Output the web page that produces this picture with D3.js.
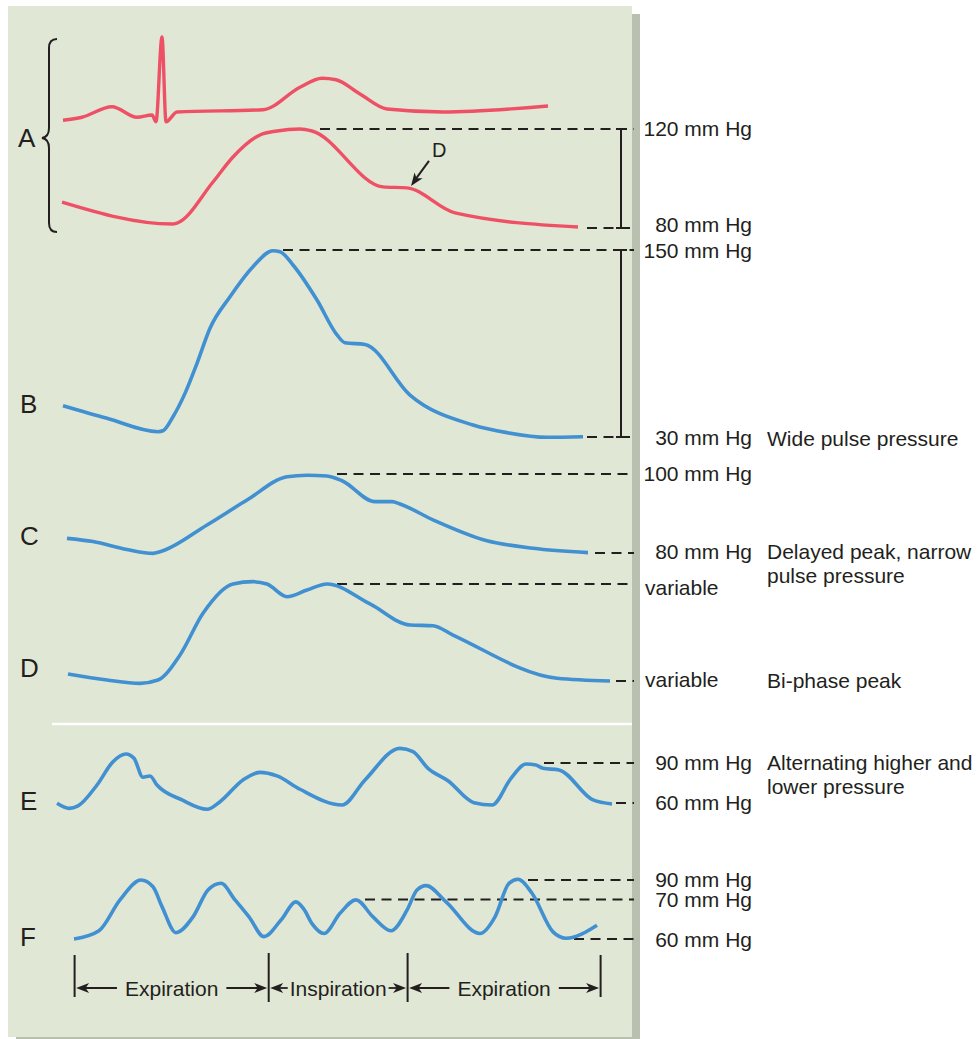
<!DOCTYPE html>
<html><head><meta charset="utf-8">
<script src="https://cdn.jsdelivr.net/npm/d3@7"></script>
<style>
html,body{margin:0;padding:0;background:#fff;}
text{font-family:"Liberation Sans",Arial,Helvetica,sans-serif;fill:#231f20;}
</style>
</head><body><svg id="c" width="979" height="1039"></svg>
<script>
// ---- data (time in arbitrary ms, values in mm Hg / mV / relative %) ----
const ecgT  = [3,22,52,77,92,96,102,106,117,203,240,262,276,300,327,383,488];
const ecgMV = [-0.11,-0.07,0.07,-0.07,-0.04,-0.13,1.0,-0.13,0,0.03,0.33,0.45,0.43,0.24,0.04,0,0.08];

const aT = [2,112,117,153,173,200,217,240,252,323,347,395,518];
const aP = [90.5,81.6,82.0,98.6,108.7,117.6,119.2,120,119.2,96.6,96.2,86.1,80.4];

const bT = [3,47,98,103,113,125,137,150,170,193,213,220,233,257,277,285,305,350,413,447,487,523];
const bP = [50.1,42.0,33.4,34.0,43.0,58.0,77.3,99.8,120.0,139.3,149.5,148.9,140.4,117.9,95.5,90.5,89.4,56.9,37.7,32.8,29.8,30.2];

const cT = [7,33,67,93,100,147,187,227,247,267,282,315,332,340,373,427,473,528];
const cP = [83.7,82.9,80.9,79.9,80.3,87.1,93.4,99.3,99.7,99.5,98.3,93.0,93.0,92.4,88.4,83.1,81.2,80.1];

const dT = [8,47,80,98,120,143,173,193,207,227,247,267,310,350,373,393,497,550];
const dV = [7.2,1.0,-2.4,1.0,26.8,69.8,100.0,102.4,100.0,86.9,93.8,100.0,79.4,57.7,57.0,47.4,2.8,0];

const eT = [-3,9,18,37,53,66,74,83,90,97,122,147,160,183,200,217,240,282,305,340,353,368,388,414,432,451,466,476,483,499,533,552];
const eP = [59.8,56.0,57.8,73.5,91.0,96.8,93.5,79.3,80.3,73.5,62.3,55.3,61.0,77.3,83.0,80.3,70.3,58.5,77.3,101.0,98.5,86.0,76.7,60.2,58.5,78.5,89.3,88.5,86.0,84.8,62.3,59.3];

const fT = [14,39,60,81,93,102,116,133,148,161,175,189,204,221,236,244,252,264,280,296,313,331,347,357,366,386,420,435,449,458,472,493,506,537];
const fP = [60.0,62.1,69.9,90.0,83.1,68.2,61.6,65.6,79.7,86.6,69.9,65.6,60.6,64.8,69.4,67.5,63.9,61.4,66.5,69.9,65.6,62.1,67.3,79.7,84.2,69.4,61.4,65.6,86.6,90.7,76.4,61.8,60.2,63.5];

// reference levels: [value, start time, label]
const refA = [[120,260,'120 mm Hg'],[80,527,'80 mm Hg']];
const refB = [[150,223,'150 mm Hg'],[30,527,'30 mm Hg']];
const refC = [[100,277,'100 mm Hg'],[80,535,'80 mm Hg']];
const refD = [[100,277,'variable'],[0,556,'variable']];
const refE = [[90,484,'90 mm Hg'],[60,556,'60 mm Hg']];
const refF = [[90,468,'90 mm Hg'],[70,305,'70 mm Hg'],[60,514,'60 mm Hg']];

const panelLetters = ['A','B','C','D','E','F'];
const notes = {
  B:['Wide pulse pressure'],
  C:['Delayed peak, narrow','pulse pressure'],
  D:['Bi-phase peak'],
  E:['Alternating higher and','lower pressure']
};
const respBounds = [14.6, 208.7, 347.6, 540.6];
const respLabels = ['Expiration','Inspiration','Expiration'];

// ---- drawing ----
const svg = d3.select('#c');
const RED = '#ee5166', BLUE = '#4190d1', INK = '#231f20';

svg.append('rect').attr('x',16).attr('y',14).attr('width',624).attr('height',1031).attr('fill','#b9c0b0');
svg.append('rect').attr('x',8).attr('y',6).attr('width',624).attr('height',1031).attr('fill','#e1e7d5');

const x = d3.scaleLinear().domain([0,560]).range([60,620]);
const yECG = d3.scaleLinear().domain([0,1]).range([112,37]);
const yA = d3.scaleLinear().domain([80,120]).range([228,129]);
const yB = d3.scaleLinear().domain([30,150]).range([437,250]);
const yC = d3.scaleLinear().domain([80,100]).range([553,474]);
const yD = d3.scaleLinear().domain([0,100]).range([681,584]);
const yE = d3.scaleLinear().domain([60,90]).range([803,763]);
const yF = d3.scaleLinear().domain([60,70,90]).range([939,899.5,880]);

function trace(ts, vs, y, color, w){
  const pts = ts.map((t,i)=>[t,vs[i]]);
  svg.append('path').datum(pts)
    .attr('d', d3.line().x(d=>x(d[0])).y(d=>y(d[1])).curve(d3.curveMonotoneX))
    .attr('fill','none').attr('stroke',color).attr('stroke-width',w)
    .attr('stroke-linejoin','round').attr('stroke-linecap','butt');
}

const lineEnd = 634, labelEnd = 752, noteX = 767;
function refs(list, y, dys){
  list.forEach((r,i)=>{
    const yy = y(r[0]);
    svg.append('line').attr('x1',x(r[1])).attr('x2',lineEnd).attr('y1',yy).attr('y2',yy)
      .attr('stroke',INK).attr('stroke-width',2).attr('stroke-dasharray','10,6.5');
    const t = svg.append('text').attr('y',yy+(dys?dys[i]:7.5)).attr('font-size',21).text(r[2]);
    if (r[2]==='variable') t.attr('x',645).attr('text-anchor','start');
    else t.attr('x',labelEnd).attr('text-anchor','end');
  });
}
function bracket(v1, v2, y){
  const bx = x.range()[1]+1;
  svg.append('line').attr('x1',bx).attr('x2',bx).attr('y1',y(v1)).attr('y2',y(v2))
    .attr('stroke',INK).attr('stroke-width',2);
  [v1,v2].forEach(v=>svg.append('line').attr('x1',bx-5).attr('x2',bx+6).attr('y1',y(v)).attr('y2',y(v))
    .attr('stroke',INK).attr('stroke-width',2));
}

// separator
svg.append('line').attr('x1',52).attr('x2',632).attr('y1',724).attr('y2',724).attr('stroke','#fff').attr('stroke-width',2.5);

// brackets
bracket(120,80,yA);
bracket(150,30,yB);

refs(refA, yA, [7,4]);
refs(refB, yB, [8,8]);
refs(refC, yC, [7,6]);
refs(refD, yD, [11,6]);
refs(refE, yE, [7,7]);
refs(refF, yF, [7,7,8]);

trace(ecgT, ecgMV, yECG, RED, 3.4);
trace(aT, aP, yA, RED, 3.4);
trace(bT, bP, yB, BLUE, 3.6);
trace(cT, cP, yC, BLUE, 3.6);
trace(dT, dV, yD, BLUE, 3.6);
trace(eT, eP, yE, BLUE, 3.6);
trace(fT, fP, yF, BLUE, 3.6);

// brace for A
svg.append('path').attr('d','M57,39 Q49,39 49,48 L49,128 Q49,137 42,138 Q49,139 49,148 L49,223 Q49,232 57,232')
  .attr('fill','none').attr('stroke',INK).attr('stroke-width',2);

// panel letters
const letterY = {A:147,B:413,C:545,D:677,E:810,F:946};
panelLetters.forEach(l=>{
  svg.append('text').attr('x', l==='A'?18:20).attr('y',letterY[l]).attr('font-size',26).text(l);
});

// notes
const noteY = {B:446,C:559,D:688,E:770};
Object.keys(notes).forEach(k=>{
  notes[k].forEach((s,i)=>svg.append('text').attr('x',noteX).attr('y',noteY[k]+i*23.5).attr('font-size',21).text(s));
});

// arrowhead helper
function head(tx,ty,angleDeg){
  svg.append('path').attr('d','M0,0 L-13,-5 L-9.5,0 L-13,5 Z')
    .attr('transform',`translate(${tx},${ty}) rotate(${angleDeg})`).attr('fill',INK);
}

// D marker on A (dicrotic notch)
{
  const nx = x(aT[10]), ny = yA(aP[10]);
  const tip = [nx+4, ny-2], tail = [nx+22, ny-27];
  svg.append('line').attr('x1',tail[0]).attr('y1',tail[1]).attr('x2',tip[0]+3).attr('y2',tip[1]-4.5)
    .attr('stroke',INK).attr('stroke-width',2);
  const ang = Math.atan2(tip[1]-tail[1], tip[0]-tail[0])*180/Math.PI;
  head(tip[0],tip[1],ang);
  svg.append('text').attr('x',nx+25).attr('y',ny-31).attr('font-size',20).text('D');
}

// respiration bar
const ry = 988;
respBounds.forEach((b,i)=>{
  const inner = i===1||i===2;
  svg.append('line').attr('x1',x(b)).attr('x2',x(b)).attr('y1',inner?953:955).attr('y2',inner?1002:997)
    .attr('stroke',INK).attr('stroke-width',2);
});
respLabels.forEach((lab,i)=>{
  const a = x(respBounds[i])+1.5, b = x(respBounds[i+1])-1.5;
  const mid = (a+b)/2;
  const t = svg.append('text').attr('x',mid).attr('y',ry+7.5).attr('text-anchor','middle').attr('font-size',21).text(lab);
  const w = t.node().getComputedTextLength();
  const side = ((b-a)-w)/2;
  const gap = side>30 ? 8 : 2;
  const l1 = mid - w/2 - gap, r1 = mid + w/2 + gap;
  svg.append('line').attr('x1',a+6).attr('x2',l1).attr('y1',ry).attr('y2',ry).attr('stroke',INK).attr('stroke-width',1.8);
  head(a,ry,180);
  svg.append('line').attr('x1',r1).attr('x2',b-6).attr('y1',ry).attr('y2',ry).attr('stroke',INK).attr('stroke-width',1.8);
  head(b,ry,0);
});
</script>
</body></html>
